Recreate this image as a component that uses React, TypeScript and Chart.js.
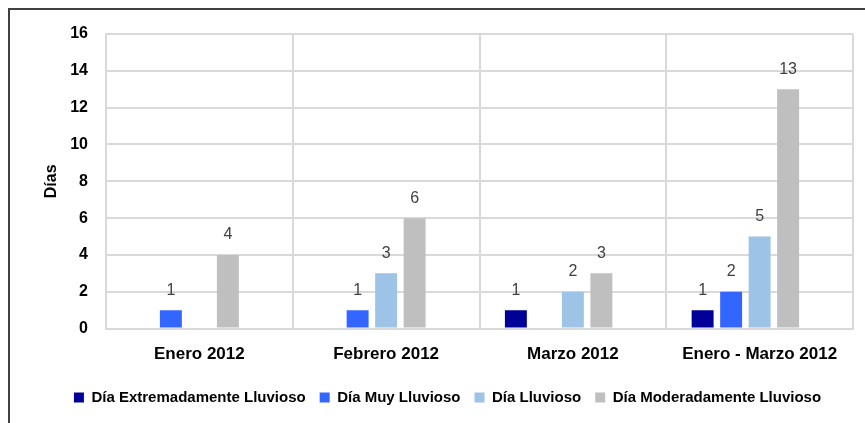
import React, { useEffect, useRef } from "react";
import { Chart, registerables } from "chart.js";

Chart.register(...registerables);

const categories = ["Enero 2012", "Febrero 2012", "Marzo 2012", "Enero - Marzo 2012"];
const seriesNames = ["Día Extremadamente Lluvioso", "Día Muy Lluvioso", "Día Lluvioso", "Día Moderadamente Lluvioso", ""];
const extremo = [0, 0, 1, 1];
const muy = [1, 1, 0, 2];
const lluvioso = [0, 3, 2, 5];
const moderado = [4, 6, 3, 13];
// empty fifth series slot present in the original grouping (no visible bars)
const vacio = [null, null, null, null];
const colors = ["#000099", "#3366FF", "#9DC3E6", "#BFBFBF", "rgba(0,0,0,0)"];
const yTitle = "Días";

const FONT = "'Liberation Sans', Arial, sans-serif";
const LEGEND_SHIFT = 5;

const valueLabels = {
  id: "valueLabels",
  afterLayout(chart: any) {
    if (chart.legend) {
      chart.legend.top -= LEGEND_SHIFT;
      chart.legend.bottom -= LEGEND_SHIFT;
    }
  },
  afterDatasetsDraw(chart: any) {
    const ctx = chart.ctx;
    ctx.save();
    ctx.font = `16px ${FONT}`;
    ctx.fillStyle = "#404040";
    ctx.textAlign = "center";
    ctx.textBaseline = "bottom";
    chart.data.datasets.forEach((ds: any, i: number) => {
      const meta = chart.getDatasetMeta(i);
      meta.data.forEach((bar: any, j: number) => {
        const v = ds.data[j];
        if (!v) return;
        ctx.fillText(String(v), bar.x, bar.y - 12);
      });
    });
    ctx.restore();
  },
};

export default function App() {
  const ref = useRef<HTMLCanvasElement>(null);
  useEffect(() => {
    const data: any[] = [extremo, muy, lluvioso, moderado, vacio];
    const chart = new Chart(ref.current!, {
      type: "bar",
      data: {
        labels: categories,
        datasets: seriesNames.map((n, i) => ({
          label: n,
          data: data[i],
          backgroundColor: colors[i],
          categoryPercentage: 0.763,
          barPercentage: 0.77,
        })),
      },
      options: {
        animation: false,
        responsive: false,
        maintainAspectRatio: false,
        layout: { padding: { top: 24, right: 12, left: 32, bottom: 3 } },
        plugins: {
          tooltip: { enabled: false },
          legend: {
            position: "bottom",
            labels: {
              boxWidth: 10,
              boxHeight: 10,
              padding: 14,
              color: "#000",
              font: { family: FONT, size: 15, weight: "bold" },
              filter: (item: any) => item.text !== "",
            },
          },
        },
        scales: {
          x: {
            grid: { color: "#d9d9d9", lineWidth: 2, drawTicks: false, offset: true },
            border: { color: "#d9d9d9", width: 2 },
            ticks: { color: "#000", padding: 16, font: { family: FONT, size: 17, weight: "bold" } },
          },
          y: {
            min: 0,
            max: 16,
            ticks: { stepSize: 2, color: "#000", padding: 18, font: { family: FONT, size: 16, weight: "bold" } },
            grid: { color: "#d9d9d9", lineWidth: 2, drawTicks: false },
            border: { color: "#d9d9d9", width: 2 },
            title: { display: true, text: yTitle, color: "#000", padding: { top: 0, bottom: 0 }, font: { family: FONT, size: 16, weight: "bold" } },
            afterFit: (s: any) => { s.width = 64; s.paddingTop = 0; },
          },
        },
      },
      plugins: [valueLabels],
    });
    return () => chart.destroy();
  }, []);
  return (
    <div
      style={{
        position: "fixed",
        left: 8,
        top: 8,
        width: 857,
        height: 415,
        borderLeft: "2px solid #404040",
        borderTop: "2px solid #404040",
        background: "#fff",
      }}
    >
      <canvas ref={ref} width={855} height={413} style={{ display: "block" }} />
    </div>
  );
}
